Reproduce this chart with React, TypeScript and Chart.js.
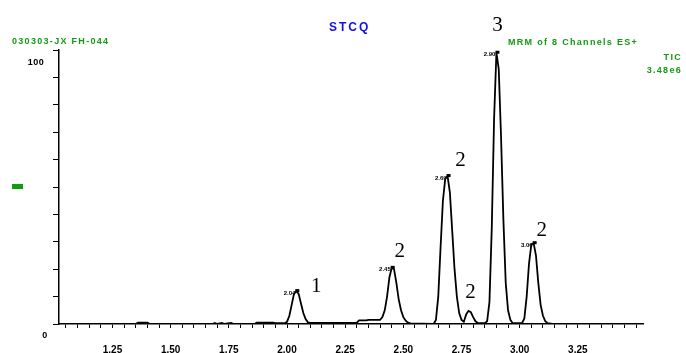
import React, { useEffect, useRef } from "react";
import { Chart, registerables } from "chart.js";

Chart.register(...registerables);

// Retention time (min)
const times = [
  1.02, 1.35, 1.36, 1.40, 1.41, 1.68, 1.69, 1.70, 1.72, 1.73, 1.76, 1.77, 1.86, 1.87, 1.94, 1.95, 1.99,
  2.00, 2.01, 2.02, 2.03, 2.04, 2.05, 2.06, 2.07, 2.08, 2.09, 2.10,
  2.30, 2.31, 2.34, 2.35, 2.40, 2.41, 2.42, 2.43, 2.44, 2.45, 2.46, 2.47, 2.48, 2.49, 2.50, 2.51, 2.52, 2.53,
  2.63, 2.64, 2.65, 2.66, 2.67, 2.68, 2.69, 2.70, 2.71, 2.72, 2.73, 2.74, 2.75, 2.76,
  2.77, 2.78, 2.79, 2.80, 2.81, 2.82, 2.85,
  2.86, 2.87, 2.88, 2.89, 2.90, 2.91, 2.92, 2.93, 2.94, 2.95, 2.96, 2.97,
  3.01, 3.02, 3.03, 3.04, 3.05, 3.06, 3.07, 3.08, 3.09, 3.10, 3.11, 3.12,
  3.14, 3.20, 3.30, 3.53,
];
// Relative intensity (%)
const intensity = [
  0, 0, 0.5, 0.5, 0, 0, 0.4, 0, 0.4, 0, 0.4, 0, 0, 0.5, 0.5, 0.3, 0.3,
  0.8, 3, 7, 11, 12, 11, 7.5, 4, 1.8, 0.6, 0.4,
  0.5, 1.3, 1.3, 1.5, 1.5, 2.5, 5, 10, 17, 20.5, 20, 15, 9, 5, 2.5, 1.2, 0.5, 0.2,
  0, 1.5, 10, 28, 45, 53, 54, 48, 34, 20, 10, 4, 1.5, 0.8,
  3.5, 4.8, 4.3, 2.5, 1, 0.4, 0.3,
  1, 8, 35, 75, 99, 93, 68, 38, 15, 5, 1.5, 0.3,
  0.3, 2, 10, 22, 29, 29.5, 25, 15, 7, 3, 1, 0.3,
  0, 0, 0, 0,
];

const xMajorTicks = [1.25, 1.5, 1.75, 2.0, 2.25, 2.5, 2.75, 3.0, 3.25];
const xTickLabels = ["1.25", "1.50", "1.75", "2.00", "2.25", "2.50", "2.75", "3.00", "3.25"];
const xMinorTicks: number[] = [];
for (let i = 21; i <= 70; i++) xMinorTicks.push(Math.round(i * 5) / 100);

// Peak annotations
const peakTimes = [2.04, 2.45, 2.69, 2.78, 2.90, 3.06];
const peakHeights = [12, 20.5, 54, 4.8, 99, 29.5];
const peakRtLabels = ["2.04", "2.45", "2.69", "", "2.90", "3.06"];
const peakNumbers = ["1", "2", "2", "2", "3", "2"];
const numberOffsets = [
  [20, -5],
  [8, -16],
  [13, -16],
  [2, -18],
  [1, -27],
  [8, -13],
];

const GREEN = "#139a13";
const BLUE = "#1010e6";

const textPlugin = {
  id: "texts",
  afterDraw(chart: any) {
    const ctx = chart.ctx;
    const xs = chart.scales.x;
    const ys = chart.scales.y;
    ctx.save();
    ctx.textBaseline = "middle";
    // headers
    ctx.fillStyle = BLUE;
    ctx.font = "bold 12px 'Liberation Sans'";
    (ctx as any).letterSpacing = "2px";
    ctx.textAlign = "left";
    ctx.fillText("STCQ", 329, 28);

    ctx.fillStyle = GREEN;
    ctx.font = "bold 9px 'Liberation Sans'";
    (ctx as any).letterSpacing = "1.3px";
    ctx.textAlign = "left";
    ctx.fillText("030303-JX FH-044", 12, 42);
    ctx.fillText("MRM of 8 Channels ES+", 508, 43);
    ctx.textAlign = "right";
    ctx.fillText("TIC", 682, 58);
    ctx.fillText("3.48e6", 682, 71);
    ctx.fillRect(12, 184, 11, 5);

    ctx.fillStyle = "#000";
    (ctx as any).letterSpacing = "0.5px";
    ctx.textAlign = "center";
    ctx.fillText("100", 36, 63);
    ctx.fillText("0", 45, 336);
    (ctx as any).letterSpacing = "0px";

    // peaks
    for (let i = 0; i < peakTimes.length; i++) {
      const px = xs.getPixelForValue(peakTimes[i]);
      const py = ys.getPixelForValue(peakHeights[i]);
      if (peakRtLabels[i]) {
        ctx.font = "bold 6px 'Liberation Sans'";
        ctx.textAlign = "right";
        ctx.fillText(peakRtLabels[i], px - 1, py + 2);
        ctx.fillRect(px - 1, py - 2, 4, 3);
      }
      ctx.font = "21px 'Liberation Serif'";
      ctx.textAlign = "center";
      ctx.fillText(peakNumbers[i], px + numberOffsets[i][0], py + numberOffsets[i][1]);
    }
    ctx.restore();
  },
};

export default function App() {
  const ref = useRef<HTMLCanvasElement>(null);
  useEffect(() => {
    if (!ref.current) return;
    const chart = new Chart(ref.current, {
      type: "line",
      data: {
        datasets: [
          {
            data: times.map((t, i) => ({ x: t, y: intensity[i] })),
            borderColor: "#000",
            borderWidth: 1.8,
            pointRadius: 0,
            tension: 0,
            fill: false,
          },
        ],
      },
      options: {
        animation: false,
        responsive: false,
        devicePixelRatio: 1,
        layout: { padding: { left: 0, right: 43, top: 50, bottom: 0 } },
        plugins: { legend: { display: false }, tooltip: { enabled: false } },
        scales: {
          x: {
            type: "linear",
            min: 1.02,
            max: 3.53,
            afterFit: (s: any) => {
              s.height = 29;
            },
            afterBuildTicks: (s: any) => {
              s.ticks = xMinorTicks.map((value) => ({ value }));
            },
            border: { color: "#000", width: 1.5 },
            grid: { drawOnChartArea: false, tickLength: 4, color: "#000", lineWidth: 1 },
            ticks: {
              autoSkip: false,
              maxRotation: 0,
              padding: 16,
              color: "#000",
              font: { family: "'Liberation Sans'", size: 10, weight: "bold" },
              callback: (v: any) => {
                const idx = xMajorTicks.findIndex((m) => Math.abs(m - Number(v)) < 1e-6);
                return idx >= 0 ? xTickLabels[idx] : "";
              },
            },
          },
          y: {
            min: 0,
            max: 100,
            afterFit: (s: any) => {
              s.width = 59;
            },
            border: { color: "#000", width: 1.5 },
            grid: { drawOnChartArea: false, tickLength: 6, color: "#000", lineWidth: 1 },
            ticks: { stepSize: 10, callback: () => "" },
          },
        },
      },
      plugins: [textPlugin],
    });
    return () => chart.destroy();
  }, []);
  return (
    <div style={{ position: "absolute", left: 0, top: 0, width: 686, height: 353, background: "#fff" }}>
      <canvas ref={ref} width={686} height={353} />
    </div>
  );
}
